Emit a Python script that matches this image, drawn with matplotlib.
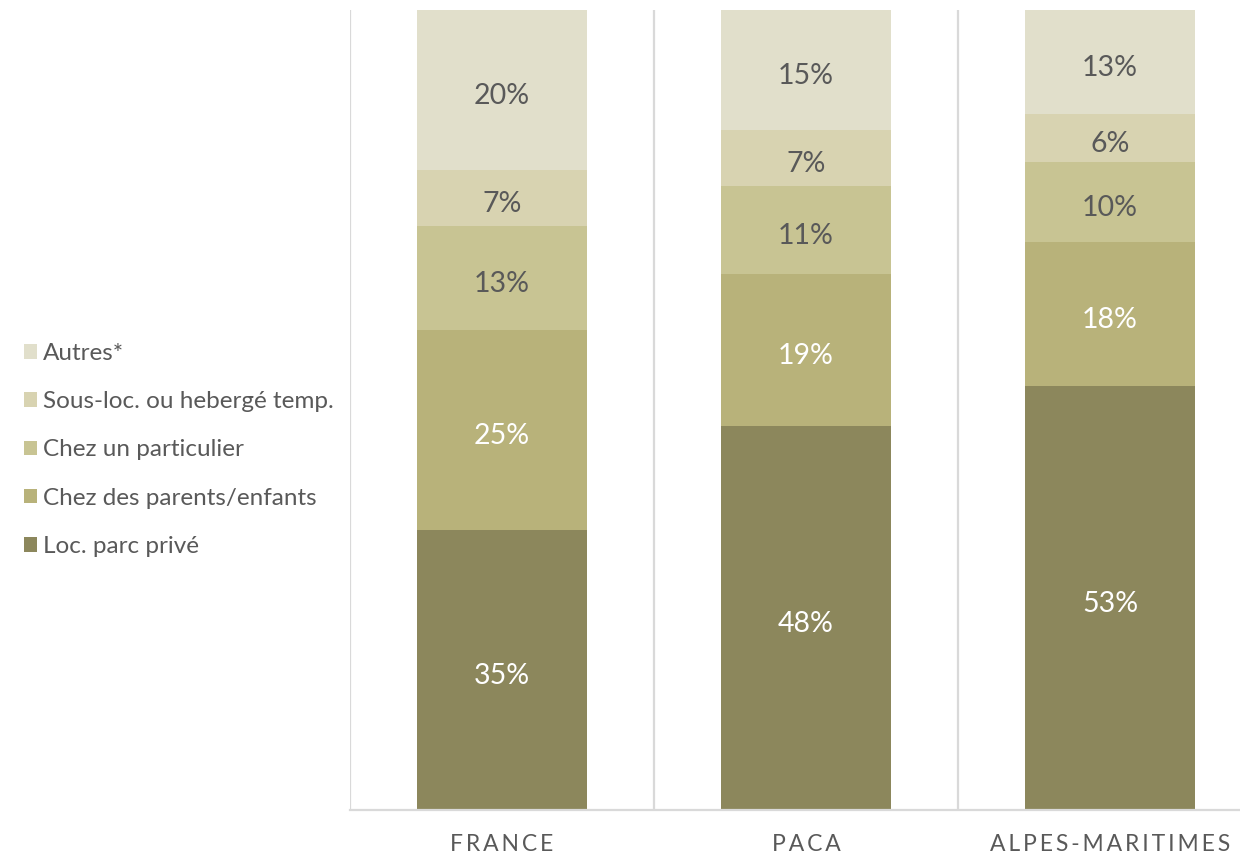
import matplotlib
matplotlib.use("Agg")
import matplotlib.pyplot as plt
from matplotlib.patches import Patch
import numpy as np

plt.rcParams['font.family'] = ['Lato', 'DejaVu Sans']

categories = ["FRANCE", "PACA", "ALPES-MARITIMES"]
series_names = ["Loc. parc privé", "Chez des parents/enfants", "Chez un particulier",
                "Sous-loc. ou hebergé temp.", "Autres*"]
loc_parc_prive = [35, 48, 53]
chez_parents = [25, 19, 18]
chez_particulier = [13, 11, 10]
sous_loc = [7, 7, 6]
autres = [20, 15, 13]

series_values = [loc_parc_prive, chez_parents, chez_particulier, sous_loc, autres]
colors = ["#8C875C", "#B8B27A", "#C8C493", "#D8D3B1", "#E1DFCB"]
label_colors = ["white", "white", "#595959", "#595959", "#595959"]

W, H = 1240, 856
fig = plt.figure(figsize=(W / 100, H / 100), dpi=100)
ax = fig.add_axes([350 / W, 46 / H, 912 / W, 800 / H])

x = np.arange(len(categories))
bottom = np.zeros(len(categories))
for vals, col, lcol in zip(series_values, colors, label_colors):
    vals = np.array(vals, dtype=float)
    ax.bar(x, vals, bottom=bottom, width=0.556, color=col, zorder=2)
    for xi, b, v in zip(x, bottom, vals):
        ax.text(xi, b + v / 2 - 0.7, f"{int(v)}%", ha="center", va="center",
                color=lcol, fontsize=20.5, zorder=3)
    bottom += vals

ax.set_xlim(-0.5, len(categories) - 0.5)
ax.set_ylim(0, 100)
ax.set_yticks([])

# category separators
for sep in np.arange(-0.5, len(categories), 1.0):
    ax.axvline(sep, color="#D9D9D9", lw=1.6, zorder=1)

for side in ["top", "right", "left"]:
    ax.spines[side].set_visible(False)
ax.spines["bottom"].set_color("#D9D9D9")
ax.spines["bottom"].set_linewidth(1.6)

spaced = ["\u2009".join(list(c)) for c in categories]
ax.set_xticks(x)
ax.set_xticklabels(spaced, fontsize=16.5, color="#595959")
ax.tick_params(axis="x", length=0, pad=17)

handles = [Patch(facecolor=c, edgecolor="none") for c in colors][::-1]
fig.legend(handles, series_names[::-1], loc="center left",
           bbox_to_anchor=(2 / W, 1 - 450 / H), frameon=False,
           fontsize=17.5, labelcolor="#595959", handlelength=0.55, handleheight=0.55,
           handletextpad=0.25, labelspacing=1.12)

fig.savefig("out.png", dpi=100)
